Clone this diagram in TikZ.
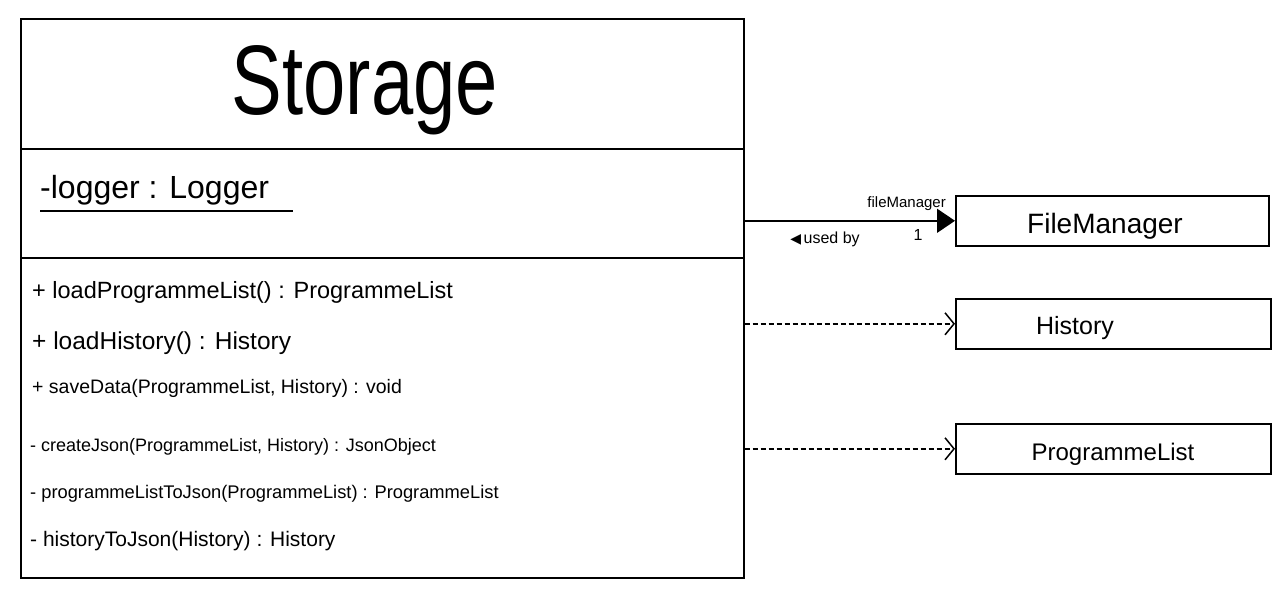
\documentclass[tikz,border=0pt]{standalone}
\usepackage{fontspec}
\setmainfont{Liberation Sans}
\newfontfamily\symfont{DejaVu Sans}
\usetikzlibrary{arrows.meta}
\begin{document}
\begin{tikzpicture}[x=1pt,y=-1pt,
  box/.style={draw,line width=1.6pt,rectangle,inner sep=0pt,anchor=north west},
  mtext/.style={anchor=base west,inner sep=0pt},
  dep/.style={line width=1.5pt,dash pattern=on 5pt off 3pt,-{Straight Barb[length=9pt,width=22pt,line width=1.5pt]}},
  assoc/.style={line width=1.5pt,-{Triangle[length=18pt,width=24pt]}},
  lbl/.style={inner sep=0pt,font=\fontsize{15}{17}\selectfont}]
\useasboundingbox (0,0) rectangle (1280,594);
% Storage class
\node[box,minimum width=723pt,minimum height=130pt] (title) at (20,18) {};
\node[box,minimum width=723pt,minimum height=109pt] (attr) at (20,148) {};
\node[box,minimum width=723pt,minimum height=320pt] (meth) at (20,257) {};
\node[inner sep=0pt,anchor=base,font=\fontsize{76}{80}\selectfont] (tname) at (365,114) {\scalebox{1}[1.3]{Storage}};
\node[mtext,font=\fontsize{32}{34}\selectfont] (logger) at (40,198) {-logger : Logger};
\draw[line width=1.5pt] (40,211) -- (293,211);
\node[mtext,font=\fontsize{23.5}{26}\selectfont] (m1) at (32,298) {+ loadProgrammeList() : ProgrammeList};
\node[mtext,font=\fontsize{24.5}{27}\selectfont] (m2) at (32,349) {+ loadHistory() : History};
\node[mtext,font=\fontsize{19.5}{22}\selectfont] (m3) at (32,393) {+ saveData(ProgrammeList, History) : void};
\node[mtext,font=\fontsize{18}{21}\selectfont] (m4) at (30,451) {- createJson(ProgrammeList, History) : JsonObject};
\node[mtext,font=\fontsize{18.3}{21}\selectfont] (m5) at (30,498) {- programmeListToJson(ProgrammeList) : ProgrammeList};
\node[mtext,font=\fontsize{21}{24}\selectfont] (m6) at (30,546) {- historyToJson(History) : History};
% other classes
\node[box,minimum width=313pt,minimum height=50pt] (fm) at (955,195) {};
\node[inner sep=0pt,anchor=base,font=\fontsize{28}{30}\selectfont] (fmt) at (1105,233) {FileManager};
\node[box,minimum width=315pt,minimum height=50pt] (hist) at (955,298) {};
\node[inner sep=0pt,anchor=base,font=\fontsize{25}{28}\selectfont] (ht) at (1075,334) {History};
\node[box,minimum width=315pt,minimum height=50pt] (pl) at (955,423) {};
\node[inner sep=0pt,anchor=base,font=\fontsize{24}{27}\selectfont] (plt) at (1113,460) {ProgrammeList};
% connectors
\draw[assoc] (fm.west -| attr.east) -- (fm.west);
\node[lbl,anchor=base east] (role) at (946,207) {fileManager};
\node[lbl,anchor=base,font=\fontsize{16}{18}\selectfont] (mult) at (918,240) {1};
\node[lbl,anchor=base,font=\fontsize{16}{18}\selectfont] (usedby) at (825,243) {{\symfont\fontsize{14}{16}\selectfont ◀}\,used by};
\draw[dep] (hist.west -| meth.east) -- (hist.west);
\draw[dep] (pl.west -| meth.east) -- (pl.west);
\end{tikzpicture}
\end{document}
